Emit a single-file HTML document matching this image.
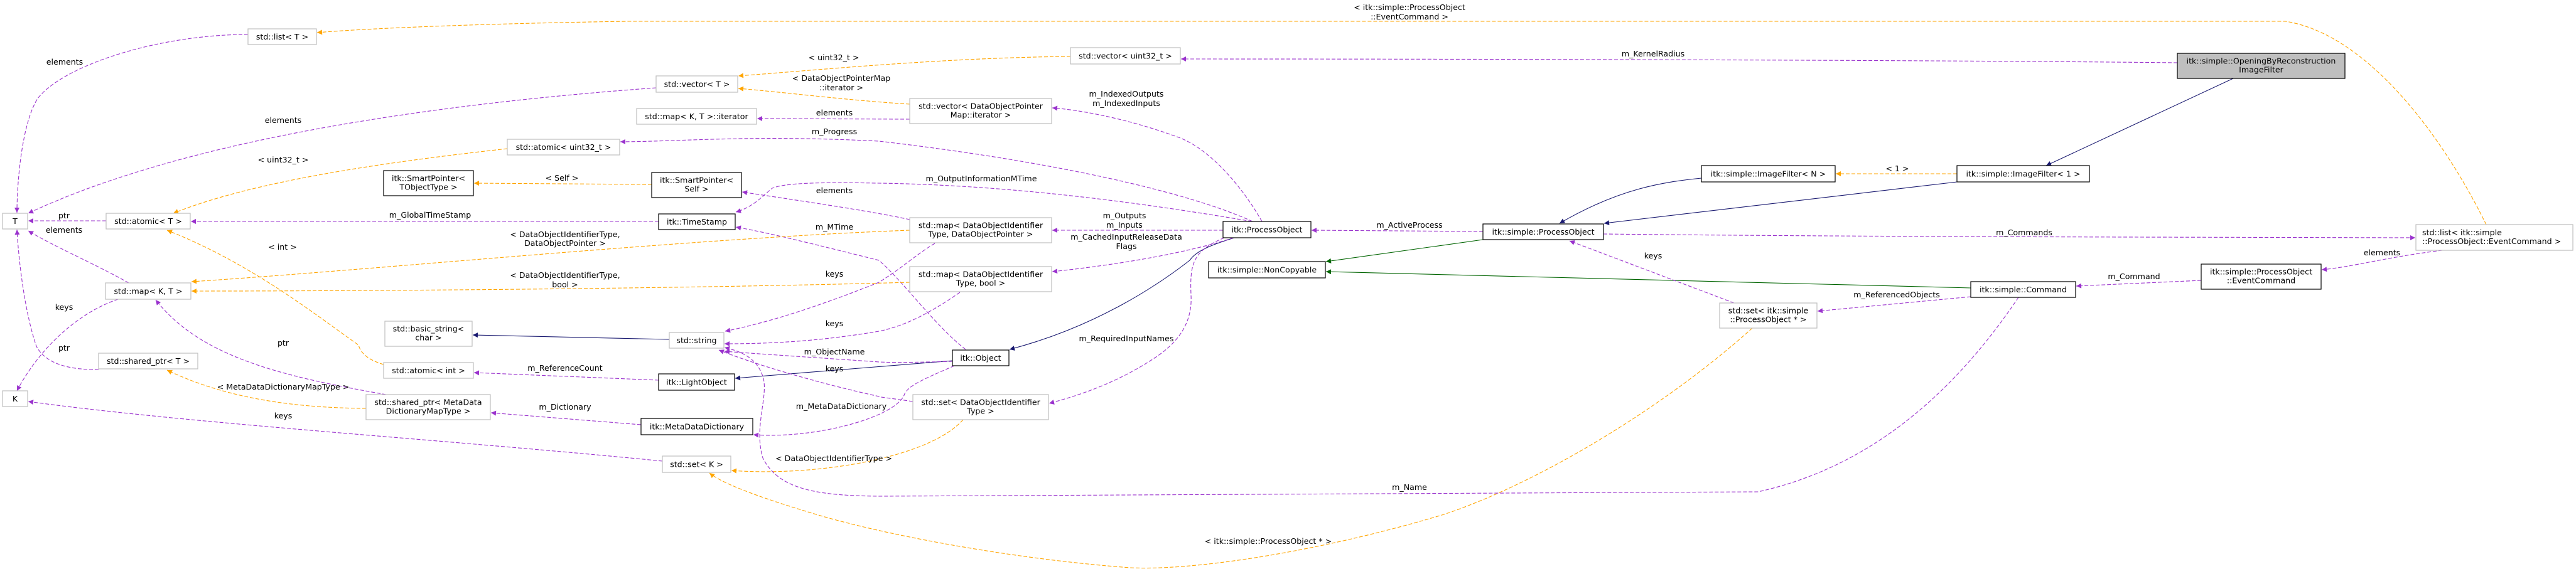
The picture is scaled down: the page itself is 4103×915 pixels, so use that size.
<!DOCTYPE html>
<html><head><meta charset="utf-8"><style>
html,body{margin:0;padding:0;background:#fff;}
svg{display:block;}
text{font-family:"DejaVu Sans","Liberation Sans",sans-serif;font-size:12.6px;fill:#000;}
.n{text-anchor:middle;}
.g{fill:#fff;stroke:#bfbfbf;stroke-width:1.2;}
.b{fill:#fff;stroke:#000;stroke-width:1.2;}
.p{fill:none;stroke:#9a32cd;stroke-width:1.1;stroke-dasharray:6,3;}
.o{fill:none;stroke:#ffa500;stroke-width:1.1;stroke-dasharray:6,3;}
.v{fill:none;stroke:#191970;stroke-width:1.1;}
.gr{fill:none;stroke:#006400;stroke-width:1.1;}
</style></head><body>
<svg width="4103" height="915" viewBox="0 0 4103 915" xmlns="http://www.w3.org/2000/svg">
<defs>
<marker id="mp" markerUnits="userSpaceOnUse" viewBox="0 0 10 10" refX="10" refY="5" markerWidth="11" markerHeight="8" orient="auto"><path d="M0,0L10,5L0,10z" fill="#9a32cd"/></marker>
<marker id="mo" markerUnits="userSpaceOnUse" viewBox="0 0 10 10" refX="10" refY="5" markerWidth="11" markerHeight="8" orient="auto"><path d="M0,0L10,5L0,10z" fill="#ffa500"/></marker>
<marker id="mv" markerUnits="userSpaceOnUse" viewBox="0 0 10 10" refX="10" refY="5" markerWidth="11" markerHeight="8" orient="auto"><path d="M0,0L10,5L0,10z" fill="#191970"/></marker>
<marker id="mg" markerUnits="userSpaceOnUse" viewBox="0 0 10 10" refX="10" refY="5" markerWidth="11" markerHeight="8" orient="auto"><path d="M0,0L10,5L0,10z" fill="#006400"/></marker>
</defs>

<!-- edges -->
<path class="p" marker-end="url(#mp)" d="M395,55 C250,55 100,105 60,157 C35,196 27,290 27,339"/>
<path class="o" marker-end="url(#mo)" d="M3960,358 C3880,196 3760,52 3640,34 L1000,34 C800,37 600,44 505,52"/>
<path class="p" marker-end="url(#mp)" d="M3468,100 C3000,95 2200,94 1881,94"/>
<path class="o" marker-end="url(#mo)" d="M1705,90 C1500,92 1300,112 1176,121"/>
<path class="o" marker-end="url(#mo)" d="M1449,166 C1350,160 1250,147 1176,141"/>
<path class="p" marker-end="url(#mp)" d="M1045,140 C700,165 300,220 45,340"/>
<path class="p" marker-end="url(#mp)" d="M1449,190 L1206,189"/>
<path class="p" marker-end="url(#mp)" d="M2010,353 C1980,300 1930,240 1880,220 C1800,190 1720,175 1676,172"/>
<path class="p" marker-end="url(#mp)" d="M1995,353 C1900,310 1700,260 1400,225 C1200,215 1100,225 988,226"/>
<path class="o" marker-end="url(#mo)" d="M808,237 C600,260 400,290 276,340"/>
<path class="o" marker-end="url(#mo)" d="M1038,294 L755,292"/>
<path class="p" marker-end="url(#mp)" d="M1449,350 C1380,335 1260,318 1182,306"/>
<path class="p" marker-end="url(#mp)" d="M1994,353 C1800,320 1600,295 1400,292 C1300,290 1250,292 1230,300 C1215,312 1200,330 1172,338"/>
<path class="p" marker-end="url(#mp)" d="M1538,557 C1490,520 1440,450 1400,415 C1300,390 1220,370 1172,362"/>
<path class="p" marker-end="url(#mp)" d="M169,352 L45,352"/>
<path class="p" marker-end="url(#mp)" d="M1049,353 L304,353"/>
<path class="p" marker-end="url(#mp)" d="M205,451 C150,420 90,395 45,368"/>
<path class="p" marker-end="url(#mp)" d="M188,477 C120,500 60,560 27,623"/>
<path class="p" marker-end="url(#mp)" d="M157,589 C100,590 70,575 58,552 C40,500 30,420 27,366"/>
<path class="o" marker-end="url(#mo)" d="M1449,367 C1100,380 600,430 305,449"/>
<path class="o" marker-end="url(#mo)" d="M1449,450 C1100,460 600,464 305,464"/>
<path class="o" marker-end="url(#mo)" d="M611,581 C590,575 575,565 571,550 C500,500 400,420 266,367"/>
<path class="p" marker-end="url(#mp)" d="M1049,606 L755,594"/>
<path class="v" marker-end="url(#mv)" d="M1066,541 L753,534"/>
<path class="v" marker-end="url(#mv)" d="M1517,575 L1171,603"/>
<path class="v" marker-end="url(#mv)" d="M1966,379 C1930,390 1905,400 1895,415 C1850,450 1750,520 1608,557"/>
<path class="p" marker-end="url(#mp)" d="M2362,369 L2089,367"/>
<path class="o" marker-end="url(#mo)" d="M583,651 C450,650 350,630 266,590"/>
<path class="p" marker-end="url(#mp)" d="M615,629 C450,600 320,570 248,478"/>
<path class="p" marker-end="url(#mp)" d="M1021,677 L782,658"/>
<path class="p" marker-end="url(#mp)" d="M1520,583 C1470,605 1445,615 1440,630 C1425,665 1300,700 1200,693"/>
<path class="p" marker-end="url(#mp)" d="M1055,735 C700,700 300,675 45,640"/>
<path class="o" marker-end="url(#mo)" d="M1534,669 C1480,730 1300,760 1165,750"/>
<path class="p" marker-end="url(#mp)" d="M1950,379 C1900,400 1895,420 1897,470 C1900,520 1870,550 1840,570 C1780,610 1720,630 1671,643"/>
<path class="gr" marker-end="url(#mg)" d="M2362,382 L2112,417"/>
<path class="gr" marker-end="url(#mg)" d="M3139,459 L2112,433"/>
<path class="v" marker-end="url(#mv)" d="M2710,284 C2650,290 2580,300 2484,356"/>
<path class="v" marker-end="url(#mv)" d="M3117,290 L2555,356"/>
<path class="o" marker-end="url(#mo)" d="M3117,277 L2924,277"/>
<path class="v" marker-end="url(#mv)" d="M3557,125 L3259,264"/>
<path class="p" marker-end="url(#mp)" d="M2554,373 C3000,378 3500,378 3847,379"/>
<path class="p" marker-end="url(#mp)" d="M3890,399 C3800,410 3750,425 3698,430"/>
<path class="p" marker-end="url(#mp)" d="M3506,447 L3307,456"/>
<path class="p" marker-end="url(#mp)" d="M3139,473 L2895,496"/>
<path class="p" marker-end="url(#mp)" d="M2762,483 L2500,384"/>
<path class="o" marker-end="url(#mo)" d="M2791,523 C2650,650 2450,770 2300,820 C2100,880 1900,910 1800,905 C1600,890 1400,850 1300,820 C1200,790 1150,770 1130,754"/>
<path class="p" marker-end="url(#mp)" d="M3215,474 C3130,600 3000,740 2800,784 L1400,791 C1300,790 1240,780 1215,730 C1200,680 1225,630 1215,600 C1205,570 1180,560 1154,554"/>
<path class="p" marker-end="url(#mp)" d="M1489,388 C1460,405 1440,425 1400,450 C1300,490 1220,515 1155,528"/>
<path class="p" marker-end="url(#mp)" d="M1529,466 C1480,500 1440,520 1400,528 C1300,545 1220,548 1154,548"/>
<path class="p" marker-end="url(#mp)" d="M1517,576 C1450,578 1420,578 1400,577 C1300,570 1220,565 1154,560"/>
<path class="p" marker-end="url(#mp)" d="M1454,640 C1420,635 1400,633 1400,632 C1300,610 1200,580 1145,558"/>
<path class="p" marker-end="url(#mp)" d="M1948,367 L1676,367"/>
<path class="p" marker-end="url(#mp)" d="M1965,379 C1900,400 1800,420 1676,433"/>

<!-- edge labels -->
<g class="n">
<text x="103" y="103" class="n">elements</text>
<text x="2245" y="16" class="n">&lt; itk::simple::ProcessObject</text>
<text x="2245" y="31" class="n">::EventCommand &gt;</text>
<text x="2633" y="90" class="n">m_KernelRadius</text>
<text x="1328" y="96" class="n">&lt; uint32_t &gt;</text>
<text x="1340" y="129" class="n">&lt; DataObjectPointerMap</text>
<text x="1340" y="144" class="n">::iterator &gt;</text>
<text x="451" y="196" class="n">elements</text>
<text x="1329" y="184" class="n">elements</text>
<text x="1794" y="154" class="n">m_IndexedOutputs</text>
<text x="1794" y="169" class="n">m_IndexedInputs</text>
<text x="1329" y="214" class="n">m_Progress</text>
<text x="451" y="259" class="n">&lt; uint32_t &gt;</text>
<text x="895" y="288" class="n">&lt; Self &gt;</text>
<text x="1329" y="308" class="n">elements</text>
<text x="1563" y="289" class="n">m_OutputInformationMTime</text>
<text x="1329" y="366" class="n">m_MTime</text>
<text x="102" y="348" class="n">ptr</text>
<text x="685" y="347" class="n">m_GlobalTimeStamp</text>
<text x="102" y="371" class="n">elements</text>
<text x="102" y="494" class="n">keys</text>
<text x="102" y="559" class="n">ptr</text>
<text x="900" y="378" class="n">&lt; DataObjectIdentifierType,</text>
<text x="900" y="392" class="n">DataObjectPointer &gt;</text>
<text x="900" y="443" class="n">&lt; DataObjectIdentifierType,</text>
<text x="900" y="458" class="n">bool &gt;</text>
<text x="450" y="398" class="n">&lt; int &gt;</text>
<text x="900" y="591" class="n">m_ReferenceCount</text>
<text x="2245" y="363" class="n">m_ActiveProcess</text>
<text x="451" y="621" class="n">&lt; MetaDataDictionaryMapType &gt;</text>
<text x="451" y="551" class="n">ptr</text>
<text x="900" y="653" class="n">m_Dictionary</text>
<text x="1340" y="652" class="n">m_MetaDataDictionary</text>
<text x="451" y="667" class="n">keys</text>
<text x="1328" y="735" class="n">&lt; DataObjectIdentifierType &gt;</text>
<text x="1794" y="544" class="n">m_RequiredInputNames</text>
<text x="3022" y="273" class="n">&lt; 1 &gt;</text>
<text x="3224" y="375" class="n">m_Commands</text>
<text x="3794" y="407" class="n">elements</text>
<text x="3399" y="445" class="n">m_Command</text>
<text x="3021" y="474" class="n">m_ReferencedObjects</text>
<text x="2633" y="412" class="n">keys</text>
<text x="2020" y="867" class="n">&lt; itk::simple::ProcessObject * &gt;</text>
<text x="2245" y="781" class="n">m_Name</text>
<text x="1329" y="441" class="n">keys</text>
<text x="1329" y="520" class="n">keys</text>
<text x="1329" y="565" class="n">m_ObjectName</text>
<text x="1329" y="592" class="n">keys</text>
<text x="1791" y="348" class="n">m_Outputs</text>
<text x="1791" y="363" class="n">m_Inputs</text>
<text x="1794" y="382" class="n">m_CachedInputReleaseData</text>
<text x="1794" y="397" class="n">Flags</text>
</g>

<!-- nodes -->
<rect class="g" x="395" y="46" width="109" height="25"/><text class="n" x="449.5" y="63">std::list&lt; T &gt;</text>
<rect class="g" x="4" y="340" width="40" height="25"/><text class="n" x="24" y="357">T</text>
<rect class="g" x="169" y="340" width="134" height="25"/><text class="n" x="236" y="357">std::atomic&lt; T &gt;</text>
<rect class="g" x="168" y="451" width="136" height="26"/><text class="n" x="236" y="468.5">std::map&lt; K, T &gt;</text>
<rect class="g" x="157" y="563" width="158" height="25"/><text class="n" x="236" y="580">std::shared_ptr&lt; T &gt;</text>
<rect class="g" x="4" y="623" width="40" height="25"/><text class="n" x="24" y="640">K</text>
<rect class="b" x="611" y="272" width="143" height="40"/><text class="n" x="682.5" y="288.5">itk::SmartPointer&lt;</text><text class="n" x="682.5" y="302.5">TObjectType &gt;</text>
<rect class="g" x="613" y="512" width="139" height="40"/><text class="n" x="682.5" y="528.5">std::basic_string&lt;</text><text class="n" x="682.5" y="542.5">char &gt;</text>
<rect class="g" x="611" y="578" width="143" height="25"/><text class="n" x="682.5" y="595">std::atomic&lt; int &gt;</text>
<rect class="g" x="583" y="629" width="198" height="40"/><text class="n" x="682" y="645.5">std::shared_ptr&lt; MetaData</text><text class="n" x="682" y="659.5">DictionaryMapType &gt;</text>
<rect class="g" x="1045" y="121" width="130" height="26"/><text class="n" x="1110" y="138.5">std::vector&lt; T &gt;</text>
<rect class="g" x="1014" y="173" width="191" height="25"/><text class="n" x="1109.5" y="190">std::map&lt; K, T &gt;::iterator</text>
<rect class="g" x="808" y="222" width="179" height="25"/><text class="n" x="897.5" y="239">std::atomic&lt; uint32_t &gt;</text>
<rect class="b" x="1038" y="275" width="143" height="40"/><text class="n" x="1109.5" y="291.5">itk::SmartPointer&lt;</text><text class="n" x="1109.5" y="305.5">Self &gt;</text>
<rect class="b" x="1049" y="341" width="122" height="25"/><text class="n" x="1110" y="358">itk::TimeStamp</text>
<rect class="g" x="1066" y="530" width="87" height="25"/><text class="n" x="1109.5" y="547">std::string</text>
<rect class="b" x="1049" y="596" width="121" height="26"/><text class="n" x="1109.5" y="613.5">itk::LightObject</text>
<rect class="b" x="1021" y="667" width="178" height="26"/><text class="n" x="1110" y="684.5">itk::MetaDataDictionary</text>
<rect class="g" x="1055" y="727" width="109" height="26"/><text class="n" x="1109.5" y="744.5">std::set&lt; K &gt;</text>
<rect class="g" x="1705" y="76" width="175" height="26"/><text class="n" x="1792.5" y="93.5">std::vector&lt; uint32_t &gt;</text>
<rect class="g" x="1449" y="157" width="226" height="40"/><text class="n" x="1562" y="173.5">std::vector&lt; DataObjectPointer</text><text class="n" x="1562" y="187.5">Map::iterator &gt;</text>
<rect class="g" x="1449" y="347" width="226" height="40"/><text class="n" x="1562" y="363.5">std::map&lt; DataObjectIdentifier</text><text class="n" x="1562" y="377.5">Type, DataObjectPointer &gt;</text>
<rect class="g" x="1449" y="425" width="226" height="40"/><text class="n" x="1562" y="441.5">std::map&lt; DataObjectIdentifier</text><text class="n" x="1562" y="455.5">Type, bool &gt;</text>
<rect class="b" x="1517" y="558" width="90" height="25"/><text class="n" x="1562" y="575">itk::Object</text>
<rect class="g" x="1454" y="629" width="216" height="40"/><text class="n" x="1562" y="645.5">std::set&lt; DataObjectIdentifier</text><text class="n" x="1562" y="659.5">Type &gt;</text>
<rect class="b" x="1948" y="353" width="140" height="26"/><text class="n" x="2018" y="370.5">itk::ProcessObject</text>
<rect class="b" x="1925" y="417" width="186" height="26"/><text class="n" x="2018" y="434.5">itk::simple::NonCopyable</text>
<rect class="b" x="2362" y="357" width="192" height="25"/><text class="n" x="2458" y="374">itk::simple::ProcessObject</text>
<rect class="b" x="2710" y="264" width="213" height="26"/><text class="n" x="2816.5" y="281.5">itk::simple::ImageFilter&lt; N &gt;</text>
<rect class="g" x="2739" y="483" width="155" height="40"/><text class="n" x="2816.5" y="499.5">std::set&lt; itk::simple</text><text class="n" x="2816.5" y="513.5">::ProcessObject * &gt;</text>
<rect class="b" x="3117" y="264" width="211" height="26"/><text class="n" x="3222.5" y="281.5">itk::simple::ImageFilter&lt; 1 &gt;</text>
<rect class="b" x="3139" y="449" width="167" height="25"/><text class="n" x="3222.5" y="466">itk::simple::Command</text>
<rect x="3468" y="85" width="267" height="40" fill="#bfbfbf" stroke="#000" stroke-width="1.2"/><text class="n" x="3601.5" y="101.5">itk::simple::OpeningByReconstruction</text><text class="n" x="3601.5" y="115.5">ImageFilter</text>
<rect class="g" x="3848" y="358" width="250" height="41"/><text x="3858" y="375">std::list&lt; itk::simple</text><text x="3858" y="389">::ProcessObject::EventCommand &gt;</text>
<rect class="b" x="3506" y="421" width="191" height="40"/><text class="n" x="3601.5" y="437.5">itk::simple::ProcessObject</text><text class="n" x="3601.5" y="451.5">::EventCommand</text>
</svg>
</body></html>
